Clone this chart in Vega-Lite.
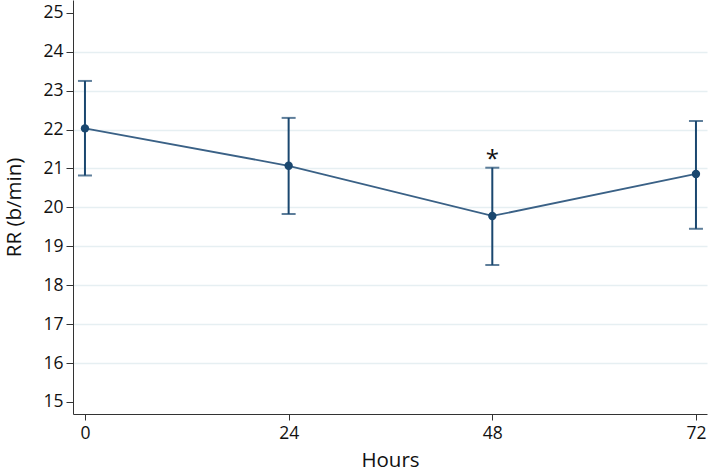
{
  "$schema": "https://vega.github.io/schema/vega-lite/v6.json",
  "width": 634,
  "height": 414,
  "autosize": "none",
  "padding": {"left": 73, "top": 0, "right": 2, "bottom": 60},
  "background": "white",
  "config": {
    "view": {"stroke": null},
    "font": "Open Sans",
    "axis": {
      "labelFont": "Open Sans",
      "titleFont": "Open Sans",
      "labelColor": "#111111",
      "titleColor": "#111111",
      "labelFontSize": 17.5,
      "titleFontSize": 20.5,
      "titleFontWeight": "normal",
      "domainColor": "#333333",
      "tickColor": "#333333",
      "domainWidth": 1,
      "tickWidth": 1
    }
  },
  "data": {
    "values": [
      {"hours": 0, "mean": 22.03, "lower": 20.82, "upper": 23.25, "sig": ""},
      {"hours": 24, "mean": 21.07, "lower": 19.83, "upper": 22.3, "sig": ""},
      {"hours": 48, "mean": 19.78, "lower": 18.52, "upper": 21.02, "sig": "*"},
      {"hours": 72, "mean": 20.86, "lower": 19.45, "upper": 22.22, "sig": ""}
    ]
  },
  "encoding": {
    "x": {
      "field": "hours",
      "type": "quantitative",
      "scale": {"domain": [-1.41, 73.3], "nice": false, "zero": false},
      "axis": {
        "values": [0, 24, 48, 72],
        "title": "Hours",
        "grid": false,
        "tickSize": 6,
        "labelPadding": 4,
        "titlePadding": 9
      }
    }
  },
  "layer": [
    {
      "mark": {"type": "rule", "strokeWidth": 2, "color": "#1a476f"},
      "encoding": {
        "y": {
          "field": "lower",
          "type": "quantitative",
          "scale": {"domain": [14.69, 25.33], "nice": false, "zero": false},
          "axis": {
            "values": [15, 16, 17, 18, 19, 20, 21, 22, 23, 24, 25],
            "title": "RR (b/min)",
            "grid": true,
            "gridColor": "#e6eff2",
            "gridWidth": 1.5,
            "gridOpacity": {"condition": {"test": "datum.value == 15 || datum.value == 25", "value": 0}, "value": 1},
            "tickSize": 7,
            "labelPadding": 3,
            "titlePadding": 18
          }
        },
        "y2": {"field": "upper"}
      }
    },
    {
      "mark": {"type": "tick", "orient": "horizontal", "size": 14, "thickness": 2, "color": "#1a476f"},
      "encoding": {"y": {"field": "lower", "type": "quantitative"}}
    },
    {
      "mark": {"type": "tick", "orient": "horizontal", "size": 14, "thickness": 2, "color": "#1a476f"},
      "encoding": {"y": {"field": "upper", "type": "quantitative"}}
    },
    {
      "mark": {"type": "line", "strokeWidth": 1.8, "color": "#3a6186"},
      "encoding": {"y": {"field": "mean", "type": "quantitative"}}
    },
    {
      "mark": {"type": "point", "filled": true, "size": 70, "opacity": 1, "color": "#1a476f"},
      "encoding": {"y": {"field": "mean", "type": "quantitative"}}
    },
    {
      "mark": {"type": "text", "fontSize": 24, "baseline": "middle", "align": "center", "color": "#111111", "dy": 6},
      "encoding": {
        "y": {"field": "upper", "type": "quantitative"},
        "text": {"field": "sig"},
        "yOffset": {"value": -14}
      }
    }
  ]
}
